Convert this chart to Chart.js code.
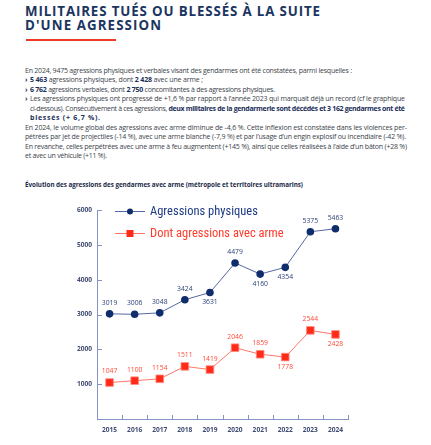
<!DOCTYPE html>
<html lang="fr">
<head>
<meta charset="utf-8">
<script src="https://cdn.jsdelivr.net/npm/chart.js@4.4.1/dist/chart.umd.min.js"></script>
<style>
  html,body{margin:0;padding:0;background:#fff;}
  body{width:431px;height:445px;position:relative;overflow:hidden;font-family:"Open Sans",sans-serif;}
  h1{position:absolute;left:25px;top:3.5px;margin:0;font-size:13.3px;line-height:14px;font-weight:700;color:#1b355f;white-space:nowrap;}
  h1 div{height:14px;}
  .bar{position:absolute;left:26px;top:39px;width:90px;height:2px;background:#f2372a;}
  .txt{position:absolute;left:25px;top:66px;width:381px;font-size:7px;line-height:9.45px;color:#3b3f4a;}
  .txt div{white-space:nowrap;height:9.45px;}
  .txt .b{position:relative;padding-left:5px;}
  .txt .b::before{content:"›";position:absolute;left:0;top:0;color:#1b2e5a;font-weight:700;}
  .txt .in{padding-left:5px;}
  .txt b{color:#1b2e5a;font-weight:700;}
  .ct{position:absolute;left:25px;top:180px;font-size:6.3px;line-height:9.45px;font-weight:700;color:#1b2a48;white-space:nowrap;}
  #wrap{position:absolute;left:0;top:195px;width:431px;height:250px;}
</style>
</head>
<body>
<h1><div><span data-end="320">MILITAIRES TUÉS OU BLESSÉS À LA SUITE</span></div><div><span data-end="161">D'UNE AGRESSION</span></div></h1>
<div class="bar"></div>
<div class="txt">
  <div><span data-end="352">En 2024, 9475 agressions physiques et verbales visant des gendarmes ont été constatées, parmi lesquelles :</span></div>
  <div class="b"><span data-end="203"><b>5 463</b> agressions physiques, dont <b>2 428</b> avec une arme ;</span></div>
  <div class="b"><span data-end="275"><b>6 762</b> agressions verbales, dont <b>2 750</b> concomitantes à des agressions physiques.</span></div>
  <div class="b"><span data-end="405">Les agressions physiques ont progressé de +1,6 % par rapport à l’année 2023 qui marquait déjà un record (cf le graphique</span></div>
  <div class="in"><span data-end="405">ci-dessous). Consécutivement à ces agressions, <b>deux militaires de la gendarmerie sont décédés et 3 162 gendarmes ont été</b></span></div>
  <div class="in"><span data-end="100"><b>blessés (+ 6,7 %).</b></span></div>
  <div><span data-end="407">En 2024, le volume global des agressions avec arme diminue de -4,6 %. Cette inflexion est constatée dans les violences per-</span></div>
  <div><span data-end="406">pétrées par jet de projectiles (-14 %), avec une arme blanche (-7,9 %) et par l’usage d’un engin explosif ou incendiaire (-42 %).</span></div>
  <div><span data-end="407">En revanche, celles perpétrées avec une arme à feu augmentent (+145 %), ainsi que celles réalisées à l’aide d’un bâton (+28 %)</span></div>
  <div><span data-end="107">et avec un véhicule (+11 %).</span></div>
</div>
<div class="ct"><span data-end="303">Évolution des agressions des gendarmes avec arme (métropole et territoires ultramarins)</span></div>
<div id="wrap"><canvas id="c" width="431" height="250"></canvas></div>
<script>
// fit each text line to the width it has in the printed page
document.querySelectorAll('span[data-end]').forEach(span => {
  const target = parseFloat(span.dataset.end);
  const r = span.getBoundingClientRect().right;
  const n = span.textContent.length;
  if (n > 1) span.style.letterSpacing = ((target - r) / (n - 1)) + 'px';
});

const years = ['2015','2016','2017','2018','2019','2020','2021','2022','2023','2024'];
const physical = [3019, 3006, 3048, 3424, 3631, 4479, 4160, 4354, 5375, 5463];
const armed = [1047, 1100, 1154, 1511, 1419, 2046, 1859, 1778, 2544, 2428];
const seriesNames = ['Agressions physiques', 'Dont agressions avec arme'];
const yMin = 0, yMax = 6000, yStep = 1000;
// which side of the point each value label sits on
const physicalLabelSide = ['up','up','up','up','down','up','down','down','up','up'];
const armedLabelSide = ['up','up','up','up','up','up','up','down','up','down'];

const AXIS = '#8593c4';
const BLUE = '#0f2c6c', BLUE_LINE = '#5468a3', BLUE_TXT = '#2e4379';
const RED = '#ff2b18', RED_LINE = '#ff7767', RED_TXT = '#ff4a3a';

const innerTicks = {
  id: 'innerTicks',
  afterDraw(chart) {
    const {ctx, chartArea: a, scales: {x, y}} = chart;
    ctx.save();
    ctx.strokeStyle = AXIS; ctx.lineWidth = 1;
    y.ticks.forEach(t => {
      const py = Math.round(y.getPixelForValue(t.value)) + 0.5;
      ctx.beginPath(); ctx.moveTo(a.left, py); ctx.lineTo(a.left + 5, py); ctx.stroke();
    });
    const n = x.ticks.length;
    const step = x.getPixelForTick(1) - x.getPixelForTick(0);
    for (let i = 1; i <= n; i++) {
      const px = i < n ? x.getPixelForTick(i) - step / 2 : a.right;
      const rx = Math.round(px) + 0.5;
      ctx.beginPath(); ctx.moveTo(rx, a.bottom); ctx.lineTo(rx, a.bottom - 4); ctx.stroke();
    }
    ctx.restore();
  }
};

const valueLabels = {
  id: 'valueLabels',
  afterDatasetsDraw(chart) {
    const {ctx} = chart;
    ctx.save();
    ctx.font = '6.8px "Open Sans"';
    ctx.textAlign = 'center'; ctx.textBaseline = 'middle';
    chart.data.datasets.forEach((ds, di) => {
      const meta = chart.getDatasetMeta(di);
      ctx.fillStyle = ds.labelColor;
      meta.data.forEach((pt, i) => {
        const off = ds.labelSide[i] === 'up' ? -11 : 10;
        ctx.fillText(String(ds.data[i]), pt.x, pt.y + off);
      });
    });
    ctx.restore();
  }
};

const insetLegend = {
  id: 'insetLegend',
  afterDraw(chart) {
    const {ctx, chartArea: a} = chart;
    ctx.save();
    chart.data.datasets.forEach((ds, di) => {
      const cy = a.top + 1.5 + di * 22;
      const x0 = a.left + 18, x1 = a.left + 48, mx = (x0 + x1) / 2;
      ctx.strokeStyle = ds.borderColor; ctx.lineWidth = 1;
      ctx.beginPath(); ctx.moveTo(x0, cy); ctx.lineTo(x1, cy); ctx.stroke();
      ctx.fillStyle = ds.pointBackgroundColor;
      if (ds.pointStyle === 'rect') { ctx.fillRect(mx - 3.5, cy - 3.5, 7, 7); }
      else { ctx.beginPath(); ctx.arc(mx, cy, 3, 0, Math.PI * 2); ctx.fill(); }
      ctx.fillStyle = ds.legendColor;
      ctx.font = '12.5px "Liberation Sans Narrow", "Roboto Condensed", "Roboto", sans-serif';
      ctx.textAlign = 'left'; ctx.textBaseline = 'middle';
      ctx.fillText(ds.label, x1 + 5, cy + 0.5);
    });
    ctx.restore();
  }
};

new Chart(document.getElementById('c'), {
  type: 'line',
  data: {
    labels: years,
    datasets: [
      {
        label: seriesNames[0], data: physical, labelSide: physicalLabelSide,
        borderColor: BLUE_LINE, borderWidth: 1, pointStyle: 'circle', pointRadius: 3.8,
        pointBackgroundColor: BLUE, pointBorderColor: BLUE, pointBorderWidth: 0,
        labelColor: BLUE_TXT, legendColor: '#1d3a84', tension: 0
      },
      {
        label: seriesNames[1], data: armed, labelSide: armedLabelSide,
        borderColor: RED_LINE, borderWidth: 1, pointStyle: 'rect', pointRadius: 5.4,
        pointBackgroundColor: RED, pointBorderColor: '#ff8c80', pointBorderWidth: 0.8,
        labelColor: RED_TXT, legendColor: '#ff3a2a', tension: 0
      }
    ]
  },
  options: {
    responsive: false,
    animation: false,
    clip: false,
    layout: {padding: {left: 0, right: 83, top: 15, bottom: 0}},
    plugins: {legend: {display: false}, tooltip: {enabled: false}},
    scales: {
      x: {
        offset: true,
        grid: {display: false, drawTicks: false},
        border: {display: true, color: AXIS, width: 1},
        ticks: {padding: 7, color: '#3f4b72', font: {family: 'Open Sans', size: 6.6, weight: 'bold'}},
        afterFit(s) { s.height = 26; }
      },
      y: {
        min: yMin, max: yMax,
        grid: {display: false, drawTicks: false},
        border: {display: true, color: AXIS, width: 1},
        ticks: {stepSize: yStep, padding: 5, color: '#3f4b72',
          font: {family: 'Open Sans', size: 6.6, weight: 'bold'},
          callback: v => v === 0 ? '' : String(v)},
        afterFit(s) { s.width = 97; }
      }
    }
  },
  plugins: [innerTicks, valueLabels, insetLegend]
});
</script>
</body>
</html>
